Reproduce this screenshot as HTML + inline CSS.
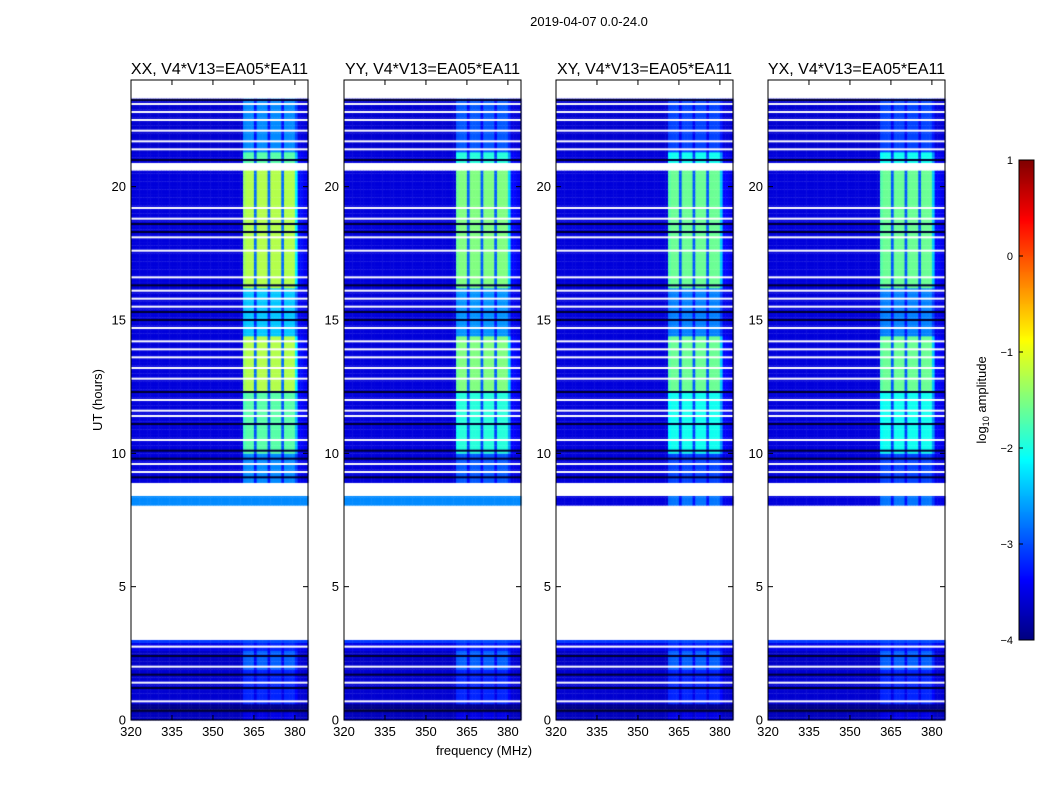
<!DOCTYPE html>
<html><head><meta charset="utf-8"><style>
body{margin:0;background:#fff;}
#wrap{position:relative;width:1050px;height:800px;overflow:hidden;font-family:"Liberation Sans",sans-serif;}
canvas{position:absolute;}
svg{position:absolute;left:0;top:0;}
</style></head><body>
<div id="wrap">
<svg id="ov" width="1050" height="800"></svg>
</div>
<script>
// ---- data ----
const panelNames = ["XX","YY","XY","YX"];
const panelBandOffset = [0, -0.25, -0.35, -0.35];
const panelLow8Bg = [-2.7, -2.7, -3.55, -3.55];
// segments: [startHour, endHour, backgroundLog, bandLog]; null bg = flagged
const segStart = [0.0,0.3,0.6,1.9,2.6,2.9,3.0,8.05,8.4,8.9,10.0,12.3,14.4,16.2,20.6,20.9,21.3,23.3];
const segEnd   = [0.3,0.6,1.9,2.6,2.9,3.0,8.05,8.4,8.9,10.0,12.3,14.4,16.2,20.6,20.9,21.3,23.3,24.0];
const segBg    = [-3.7,-3.95,-3.6,-3.65,-3.5,-3.1,null,"low8",null,-3.55,-3.55,-3.55,-3.55,-3.55,null,-3.55,-3.6,null];
const segBand  = [-3.5,-3.95,-3.2,-2.9,-3.2,-3.0,null,-2.8,null,-2.7,-1.7,-1.25,-2.4,-1.25,null,-1.7,-2.7,null];
const whiteLines = [0.7,1.4,2.0,2.75,9.3,9.6,10.5,11.4,11.6,12.0,12.8,13.2,13.6,13.9,14.2,14.7,15.5,15.8,16.1,16.6,17.6,18.1,18.8,19.2,21.4,21.7,22.1,22.5,22.8,23.1];
const blackLines = [0.35,1.2,1.7,2.4,9.1,9.8,10.1,11.1,12.3,15.0,15.3,16.3,18.3,18.6,21.0,23.25];
// band profile per 1 MHz channel starting at 320 MHz (0 = background, 1 = full band)
const bandProfile = [0,0,0,0,0,0,0,0,0,0,0,0,0,0,0,0,0,0,0,0,0,0,0,0,0,0,0,0,0,0,0,0,0,0,0,0,0,0,0,0,0,0.95,1,1,1,0.3,1,1,1,1,0.3,1,1,1,1,0.3,1,1,1,1,0.6,0.1,0.1,0.05,0.05];
const yTicks = [0,5,10,15,20];
const xTicks = [320,335,350,365,380];
const cbTicks = [1,0,-1,-2,-3,-4];

// ---- layout ----
const panelX = [131,344,556,768], pw = 177, py0 = 80, py1 = 720;
const fmin = 320, fmax = 384.8, hmin = 0, hmax = 24, vmin = -4, vmax = 1;
const NS = "http://www.w3.org/2000/svg";
const ov = document.getElementById('ov');
const wrap = document.getElementById('wrap');
function yS(h){return py1 - (h-hmin)/(hmax-hmin)*(py1-py0);}
function xS(i,f){return panelX[i] + (f-fmin)/(fmax-fmin)*pw;}
function jet(v){
  let t=(v-vmin)/(vmax-vmin); t=Math.max(0,Math.min(1,t));
  const c=x=>Math.round(255*Math.max(0,Math.min(1,x)));
  return `rgb(${c(1.5-Math.abs(4*t-3))},${c(1.5-Math.abs(4*t-2))},${c(1.5-Math.abs(4*t-1))})`;
}
function el(tag,attrs,txt){const e=document.createElementNS(NS,tag);for(const k in attrs)e.setAttribute(k,attrs[k]);if(txt!==undefined)e.textContent=txt;ov.appendChild(e);return e;}

const dh = 0.1;
panelNames.forEach((nm,i)=>{
  const cv=document.createElement('canvas');
  
  
  cv.width=1050; cv.height=800; cv.style.left='0px'; cv.style.top='0px';
  wrap.insertBefore(cv, ov);
  const ctx=cv.getContext('2d');
  for(let s=0;s<segStart.length;s++){
    if(segBg[s]===null) continue;
    const bg = segBg[s]==="low8" ? panelLow8Bg[i] : segBg[s];
    const band = segBand[s] + (s>=9 ? panelBandOffset[i] : 0);
    for(let h=segStart[s]; h<segEnd[s]-1e-6; h+=dh){
      const h2=Math.min(h+dh,segEnd[s]);
      const y0=yS(h2), y1=yS(h);
      for(let c=0;c<bandProfile.length;c++){
        const f0=fmin+c, f1=Math.min(fmin+c+1,fmax);
        if(f0>=fmax) break;
        const v = bg + bandProfile[c]*Math.max(0,band-bg);
        ctx.fillStyle=jet(v);
        ctx.fillRect(xS(i,f0),y0,xS(i,f1)-xS(i,f0)+0.5,y1-y0+0.3);
      }
    }
  }
  whiteLines.forEach(h=>{ctx.fillStyle='#fff';ctx.fillRect(panelX[i],yS(h)-1,pw,2);});
  blackLines.forEach(h=>{ctx.fillStyle='#000030';ctx.fillRect(panelX[i],yS(h)-1,pw,2);});
  el('rect',{x:panelX[i],y:py0,width:pw,height:py1-py0,fill:'none',stroke:'#000','stroke-width':1,});
  el('text',{x:panelX[i]+pw/2,y:74,'text-anchor':'middle','font-size':16,},nm+', V4*V13=EA05*EA11');
  yTicks.forEach(t=>{
    const y=yS(t);
    el('line',{x1:panelX[i],x2:panelX[i]+5,y1:y,y2:y,stroke:'#000',});
    el('line',{x1:panelX[i]+pw-5,x2:panelX[i]+pw,y1:y,y2:y,stroke:'#000',});
    el('text',{x:panelX[i]-5,y:y+4.5,'text-anchor':'end','font-size':13,},String(t));
  });
  xTicks.forEach(t=>{
    const x=xS(i,t);
    el('line',{x1:x,x2:x,y1:py1,y2:py1-5,stroke:'#000',});
    el('line',{x1:x,x2:x,y1:py0,y2:py0+5,stroke:'#000',});
    el('text',{x:x,y:736,'text-anchor':'middle','font-size':13,},String(t));
  });
});

el('text',{x:589,y:26,'text-anchor':'middle','font-size':13,},'2019-04-07 0.0-24.0');
el('text',{x:0,y:0,'text-anchor':'middle','font-size':13,transform:'translate(102,400) rotate(-90)',},'UT (hours)');
el('text',{x:484,y:755,'text-anchor':'middle','font-size':13,},'frequency (MHz)');

// colorbar
const cbx=1019, cbw=15, cby0=160, cby1=640;
const cv2=document.createElement('canvas');


cv2.width=1050; cv2.height=800; cv2.style.left='0px'; cv2.style.top='0px';
wrap.insertBefore(cv2, ov);
const c2=cv2.getContext('2d');
for(let y=cby0;y<cby1;y++){c2.fillStyle=jet(vmax-(y-cby0+0.5)/(cby1-cby0)*(vmax-vmin));c2.fillRect(cbx,y,cbw,1);}
el('rect',{x:cbx,y:cby0,width:cbw,height:cby1-cby0,fill:'none',stroke:'#000',});
cbTicks.forEach(t=>{
  const y=cby0+(vmax-t)/(vmax-vmin)*(cby1-cby0);
  el('text',{x:1013,y:y+4,'text-anchor':'end','font-size':11,},t<0?'\u2212'+(-t):String(t));
  el('line',{x1:cbx,x2:cbx+4,y1:y,y2:y,stroke:'#000',});
});
const lab=el('text',{x:0,y:0,'text-anchor':'middle','font-size':13,transform:'translate(986,400) rotate(-90)',});
lab.innerHTML='log<tspan font-size="9" dy="3">10</tspan><tspan dy="-3"> amplitude</tspan>';
</script>
</body></html>
